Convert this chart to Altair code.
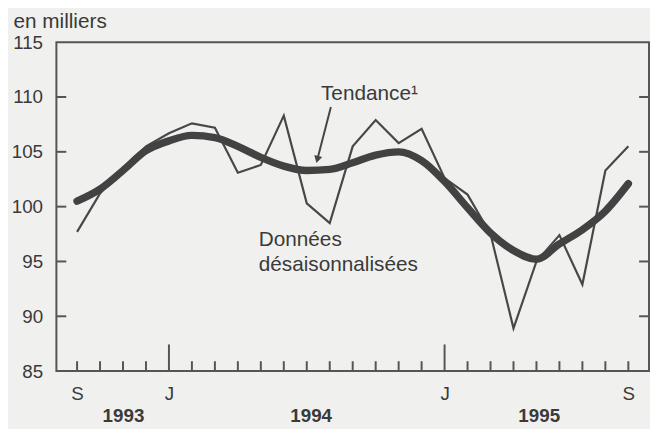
import altair as alt
import pandas as pd

# Monthly data, September 1993 .. September 1995 (index 0 .. 24)
months = ["1993-09", "1993-10", "1993-11", "1993-12",
          "1994-01", "1994-02", "1994-03", "1994-04", "1994-05", "1994-06",
          "1994-07", "1994-08", "1994-09", "1994-10", "1994-11", "1994-12",
          "1995-01", "1995-02", "1995-03", "1995-04", "1995-05", "1995-06",
          "1995-07", "1995-08", "1995-09"]
raw = [97.7, 101.2, 103.5, 105.5,
       106.7, 107.6, 107.2, 103.1, 103.8, 108.3,
       100.3, 98.5, 105.5, 107.9, 105.8, 107.1,
       102.6, 101.1, 97.5, 88.9, 95.0, 97.4,
       92.9, 103.3, 105.5]
trend = [100.5, 101.6, 103.3, 105.1,
         106.0, 106.5, 106.3, 105.5, 104.5, 103.7,
         103.3, 103.4, 104.0, 104.7, 105.0, 104.2,
         102.3, 99.9, 97.6, 96.0, 95.2, 96.6,
         97.9, 99.6, 102.1]

x_label_values = [0, 4, 16, 24]          # S, J, J, S
y_values = [85, 90, 95, 100, 105, 110, 115]
y_tick_values = [90, 95, 100, 105, 110]
small_ticks = [0, 1, 2, 3, 5, 6, 7, 8, 9, 10, 11, 12, 13, 14, 15, 17, 18, 19, 20, 21, 22, 23, 24]
big_ticks = [4, 16]
years = ["1993", "1994", "1995"]
year_pos = [2.02, 10.19, 20.12]

INK = "#3a3a3a"
FONT = "Liberation Sans"

idx = list(range(len(months)))
df = pd.DataFrame({"i": idx, "mois": months, "raw": raw, "trend": trend})

xscale = alt.Scale(domain=[-0.9, 24.9], nice=False, zero=False)
yscale = alt.Scale(domain=[85, 115], nice=False, zero=False)

xaxis = alt.Axis(values=x_label_values, labelExpr="(datum.value == 0 || datum.value == 24) ? 'S' : 'J'",
                 ticks=False, domain=False, grid=False, labelPadding=14, labelFontSize=19,
                 labelFont=FONT, labelColor=INK, title=None)
yaxis = alt.Axis(values=y_values, ticks=False, domain=False, grid=False, labelPadding=14,
                 labelFontSize=19, labelFont=FONT, labelColor=INK,
                 title="en milliers", titleAngle=0, titleAlign="left", titleBaseline="alphabetic",
                 titleX=-44, titleY=-15, titleFont=FONT, titleFontSize=21, titleFontWeight="normal",
                 titleColor=INK)

base = alt.Chart(df)

raw_line = base.mark_line(color="#474747", strokeWidth=2.2, strokeJoin="miter").encode(
    x=alt.X("i:Q", scale=xscale, axis=xaxis),
    y=alt.Y("raw:Q", scale=yscale, axis=yaxis),
)
trend_line = base.mark_line(color="#424242", strokeWidth=7.5, strokeCap="round", strokeJoin="round",
                            interpolate="monotone").encode(
    x=alt.X("i:Q", scale=xscale),
    y=alt.Y("trend:Q", scale=yscale),
)

small_df = pd.DataFrame({"t": small_ticks})
big_df = pd.DataFrame({"t": big_ticks})
small_rules = alt.Chart(small_df).mark_rule(color="#555", strokeWidth=2).encode(
    x=alt.X("t:Q", scale=xscale), y=alt.value(333), y2=alt.value(323))
big_rules = alt.Chart(big_df).mark_rule(color="#555", strokeWidth=2).encode(
    x=alt.X("t:Q", scale=xscale), y=alt.value(333), y2=alt.value(306))

ytick_df = pd.DataFrame({"v": y_tick_values})
left_ticks = alt.Chart(ytick_df).mark_rule(color="#555", strokeWidth=2).encode(
    y=alt.Y("v:Q", scale=yscale), x=alt.value(0), x2=alt.value(10))
right_ticks = alt.Chart(ytick_df).mark_rule(color="#555", strokeWidth=2).encode(
    y=alt.Y("v:Q", scale=yscale), x=alt.value(590), x2=alt.value(600))

ann_df = pd.DataFrame({
    "x": [10.62, 7.91, 7.91],
    "y": [109.7, 96.44, 94.1],
    "t": ["Tendance\u00b9", "Donn\u00e9es", "d\u00e9saisonnalis\u00e9es"],
})
ann = alt.Chart(ann_df).mark_text(align="left", baseline="alphabetic", font=FONT, fontSize=21,
                                  color=INK).encode(
    x=alt.X("x:Q", scale=xscale), y=alt.Y("y:Q", scale=yscale), text="t:N")

arrow_df = pd.DataFrame({"x": [11.05], "y": [109.1], "x2": [10.46], "y2": [104.3]})
arrow = alt.Chart(arrow_df).mark_rule(color="#454545", strokeWidth=2).encode(
    x=alt.X("x:Q", scale=xscale), y=alt.Y("y:Q", scale=yscale), x2="x2:Q", y2="y2:Q")
head = alt.Chart(arrow_df).mark_point(shape="triangle-down", filled=True, opacity=1,
                                      color="#454545", size=70, angle=15).encode(
    x=alt.X("x2:Q", scale=xscale), y=alt.Y("y2:Q", scale=yscale))

year_df = pd.DataFrame({"x": year_pos, "t": years})
year_txt = alt.Chart(year_df).mark_text(align="center", baseline="alphabetic", font=FONT, fontSize=19,
                                        fontWeight="bold", color=INK).encode(
    x=alt.X("x:Q", scale=xscale), y=alt.value(385), text="t:N")

chart = alt.layer(
    small_rules, big_rules, left_ticks, right_ticks,
    raw_line, trend_line, arrow, head, ann, year_txt,
).properties(
    width=600, height=333,
    autosize=alt.AutoSizeParams(type="none"),
    padding={"left": 49, "top": 32, "right": 1, "bottom": 56},
    background="#f0f0ee",
).configure_view(
    stroke="#555", strokeWidth=2,
)

chart.save("out.html", embed_options={"renderer": "svg", "actions": False})
